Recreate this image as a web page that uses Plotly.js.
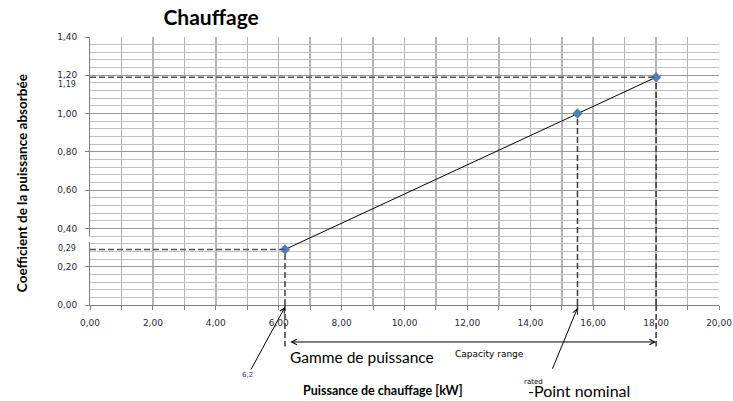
<!DOCTYPE html>
<html>
<head>
<meta charset="utf-8">
<script src="https://cdn.plot.ly/plotly-3.0.1.min.js"></script>
<style>html,body{margin:0;padding:0;background:#fff;}#chart{width:733px;height:401px;}</style>
</head>
<body>
<div id="chart"></div>
<script>
// ---- data ----
const powerKW = [6.2, 15.5, 18.0];          // Puissance de chauffage [kW]
const coefficient = [0.29, 1.00, 1.19];     // Coefficient de la puissance absorbée
const xRange = [0, 20];
const yRange = [0, 1.4];
const guideHorizontal = [0, 2];             // indices of points with horizontal guide
const extraYLabels = ["0,29", "1,19"];
const extraYLabelIdx = [0, 2];
const minPointLabel = "6,2";

// minor horizontal grid positions (every 0.04, skipping the 0.2 majors)
const minorY = [];
for (let k = 1; k < 35; k++) { if (k % 5 !== 0) minorY.push(+(k * 0.04).toFixed(2)); }

const guideColor = "#3a3a3a";
const traces = [];

// horizontal dashed guides (on the overlaid y2 axis, same range)
guideHorizontal.forEach(i => {
  traces.push({
    x: [xRange[0], powerKW[i]], y: [coefficient[i], coefficient[i]], yaxis: "y2",
    mode: "lines", hoverinfo: "skip", showlegend: false,
    line: {color: "#555", width: 1.5, dash: "6px,3px"}
  });
});
// vertical dashed guides (in plot)
powerKW.forEach((xv, i) => {
  traces.push({
    x: [xv, xv], y: [yRange[0], coefficient[i]],
    mode: "lines", hoverinfo: "skip", showlegend: false,
    line: {color: guideColor, width: 1.5, dash: "6px,3px"}
  });
});
// main series
traces.push({
  x: powerKW, y: coefficient, mode: "lines+markers", showlegend: false,
  line: {color: "#000", width: 1},
  marker: {symbol: "diamond", size: 8, color: "#4f81bd"}
});

// extension of vertical guides below the axis (paper coords)
const extBelow = [-0.155, -0.02, -0.155];
const shapes = powerKW.map((xv, i) => ({
  type: "line", xref: "x", yref: "paper", x0: xv, x1: xv, y0: 0, y1: extBelow[i],
  line: {color: guideColor, width: 1.5, dash: "6px,3px"}
}));
// small white gap on the y axis behind the 0,29 label
shapes.push({type: "rect", xref: "paper", yref: "paper", x0: -0.02, x1: 0.0015,
  y0: 0.235, y1: 0.255, fillcolor: "#fff", line: {width: 0}, layer: "above"});

const tickFont = {family: "DejaVu Sans", size: 9, color: "#2b2b3b"};
const annotations = [];
extraYLabelIdx.forEach((idx, k) => {
  annotations.push({
    xref: "paper", yref: "y", x: 0, y: coefficient[idx], text: extraYLabels[k],
    showarrow: false, xanchor: "right", yanchor: "middle", xshift: -12, yshift: idx === 2 ? -7 : 1,
    font: {family: "DejaVu Sans", size: 8, color: "#2b2b3b"}
  });
});
// 6,2 arrow
annotations.push({
  xref: "x", yref: "y", x: powerKW[0], y: yRange[0], text: minPointLabel,
  showarrow: true, arrowhead: 5, arrowsize: 1, arrowwidth: 1, arrowcolor: "#000",
  ax: -37, ay: 68, yshift: -2,
  font: {family: "DejaVu Sans", size: 7, color: "#1f3864"}
});
// rated point arrow
annotations.push({
  xref: "x", yref: "y", x: powerKW[1], y: yRange[0], text: " ",
  showarrow: true, arrowhead: 5, arrowsize: 1, arrowwidth: 1, arrowcolor: "#000",
  ax: -28, ay: 68, yshift: -3, standoff: 0
});
annotations.push({
  xref: "x", yref: "paper", x: 14.09, y: -0.286, text: "rated", showarrow: false,
  xanchor: "center", yanchor: "middle",
  font: {family: "DejaVu Sans", size: 7, color: "#000"}
});
annotations.push({
  xref: "x", yref: "paper", x: 15.55, y: -0.318, text: "-Point nominal", showarrow: false,
  xanchor: "center", yanchor: "middle",
  font: {family: "Lato", size: 16, color: "#000"}
});
// capacity range double arrow
annotations.push({
  xref: "x", yref: "paper", x: powerKW[2], y: -0.138, axref: "x", ax: powerKW[0] + 0.12,
  ayref: "pixel", ay: 0, text: "", showarrow: true, arrowhead: 5, startarrowhead: 5,
  arrowside: "end+start", arrowsize: 1.1, arrowwidth: 1, arrowcolor: "#000"
});
annotations.push({
  xref: "x", yref: "paper", x: 8.65, y: -0.195, text: "Gamme de puissance", showarrow: false,
  xanchor: "center", yanchor: "middle",
  font: {family: "Lato", size: 15.5, color: "#000"}
});
annotations.push({
  xref: "x", yref: "paper", x: 12.7, y: -0.183, text: "Capacity range", showarrow: false,
  xanchor: "center", yanchor: "middle",
  font: {family: "DejaVu Sans", size: 9, color: "#000"}
});
// axis titles
annotations.push({
  xref: "paper", yref: "paper", x: 0.466, y: -0.318, text: "Puissance de chauffage [kW]",
  showarrow: false, xanchor: "center", yanchor: "middle",
  font: {family: "Lato", size: 12.5, color: "#000", weight: "bold"}
});
annotations.push({
  xref: "paper", yref: "paper", x: -0.108, y: 0.455, textangle: -90,
  text: "Coefficient de la puissance absorbée",
  showarrow: false, xanchor: "center", yanchor: "middle",
  font: {family: "Lato", size: 13.5, color: "#000", weight: "bold"}
});

const layout = {
  width: 733, height: 401,
  margin: {l: 90, r: 14, t: 37, b: 96},
  paper_bgcolor: "#fff", plot_bgcolor: "#fff",
  separators: ", ",
  showlegend: false,
  title: {text: "<b>Chauffage</b>", x: 0.288, xanchor: "center", xref: "container",
    y: 0.955, yanchor: "middle", font: {family: "Lato", size: 21, color: "#000"}},
  xaxis: {
    range: xRange, dtick: 2, tick0: 0, tickformat: ".2f",
    ticks: "outside", ticklen: 4, tickcolor: "#808080",
    showline: true, linecolor: "#808080", linewidth: 1,
    showgrid: true, gridcolor: "#b4b4b4", gridwidth: 1.5, zeroline: false,
    minor: {dtick: 1, showgrid: true, gridcolor: "#b4b4b4", gridwidth: 1.5, ticks: "outside", ticklen: 4, tickcolor: "#808080"},
    tickfont: tickFont, ticklabelstandoff: 5, fixedrange: true
  },
  yaxis: {
    range: yRange, dtick: 0.2, tick0: 0, tickformat: ".2f",
    ticks: "outside", ticklen: 4, tickcolor: "#808080",
    showline: true, linecolor: "#808080", linewidth: 1,
    showgrid: true, gridcolor: "#969696", gridwidth: 1, zeroline: false,
    tickfont: tickFont, ticklabelstandoff: 6, fixedrange: true
  },
  yaxis2: {
    overlaying: "y", anchor: "x", side: "left", range: yRange,
    tickmode: "array", tickvals: minorY, showticklabels: false, ticks: "",
    showgrid: true, gridcolor: "#c0c0c0", gridwidth: 1,
    showline: false, zeroline: false, fixedrange: true
  },
  shapes: shapes,
  annotations: annotations
};

Plotly.newPlot("chart", traces, layout, {displayModeBar: false, staticPlot: true});
</script>
</body>
</html>
